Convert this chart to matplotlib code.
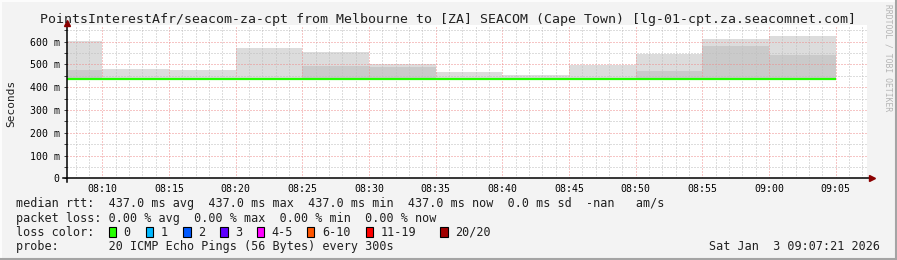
import matplotlib
matplotlib.use("Agg")
import matplotlib.pyplot as plt
import numpy as np
from matplotlib.patches import Rectangle
from matplotlib.lines import Line2D

# ---------------- data ----------------
title = "PointsInterestAfr/seacom-za-cpt from Melbourne to [ZA] SEACOM (Cape Town) [lg-01-cpt.za.seacomnet.com]"
step_starts = ["08:05", "08:10", "08:15", "08:20", "08:25", "08:30",
               "08:35", "08:40", "08:45", "08:50", "08:55", "09:00"]
median_ms = [437, 437, 437, 437, 437, 437, 437, 437, 437, 437, 437, 437]
dark_smoke_top = [475, 437, 437, 437, 493, 490, 437, 437, 437, 472, 581, 542]
light_smoke_top = [603, 480, 475, 572, 553, 502, 468, 453, 495, 547, 612, 626]
x_tick_labels = ["08:10", "08:15", "08:20", "08:25", "08:30", "08:35",
                 "08:40", "08:45", "08:50", "08:55", "09:00", "09:05"]
y_tick_values = [0, 100, 200, 300, 400, 500, 600]
y_tick_labels = ["0", "100 m", "200 m", "300 m", "400 m", "500 m", "600 m"]
loss_labels = ["0", "1", "2", "3", "4-5", "6-10", "11-19", "20/20"]
loss_colors = ["#26ff00", "#00b8ff", "#0059ff", "#5e00ff", "#ff00ff",
               "#ff5500", "#ff0000", "#a10000"]
line_median = "median rtt:  437.0 ms avg  437.0 ms max  437.0 ms min  437.0 ms now  0.0 ms sd  -nan   am/s"
line_loss = "packet loss: 0.00 % avg  0.00 % max  0.00 % min  0.00 % now"
line_probe = "probe:       20 ICMP Echo Pings (56 Bytes) every 300s"
stamp = "Sat Jan  3 09:07:21 2026"
view_start, view_end = "08:07:21", "09:07:21"
step_minutes = 5


def to_min(s):
    parts = [int(p) for p in s.split(":")]
    m = (parts[0] - 8) * 60 + parts[1]
    if len(parts) > 2:
        m += parts[2] / 60.0
    return m


# ---------------- layout ----------------
W, H = 897, 260
plt.rcParams['font.family'] = ['DejaVu Sans Mono']
fig = plt.figure(figsize=(W / 100, H / 100), dpi=100, facecolor="#f3f3f3")

px_left, px_right, px_bottom, px_top = 67, 867, 178.3, 25
ax = fig.add_axes([px_left / W, 1 - px_bottom / H,
                   (px_right - px_left) / W, (px_bottom - px_top) / H])
ax.set_facecolor("white")
ax.set_xlim(to_min(view_start), to_min(view_end))
ax.set_ylim(0, (px_bottom - px_top) / 0.228)

edges = [to_min(s) for s in step_starts] + [to_min(step_starts[-1]) + step_minutes]
ax.stairs(light_smoke_top, edges, baseline=median_ms, fill=True,
          color="#dcdcdc", lw=0, zorder=1)
ax.stairs(dark_smoke_top, edges, baseline=median_ms, fill=True,
          color="#cacaca", lw=0, zorder=1.2)
ax.stairs(median_ms, edges, baseline=None, color="#22ff00", lw=1.6, zorder=3)

# grid
ax.set_xticks([to_min(t) for t in x_tick_labels])
ax.set_xticklabels(x_tick_labels, fontsize=7.1)
ax.set_xticks(np.arange(np.ceil(to_min(view_start)), to_min(view_end), 1), minor=True)
ax.set_yticks(y_tick_values)
ax.set_yticklabels(y_tick_labels, fontsize=7.1)
ax.set_yticks(np.arange(50, ax.get_ylim()[1], 100), minor=True)
ax.set_axisbelow(False)
ax.grid(which="minor", color="#bdbdbd", ls=(0, (1, 2)), lw=0.72)
ax.grid(which="major", color="#ee8c8c", ls=(0, (1, 2)), lw=0.72)
ax.tick_params(axis="x", which="both", length=0, pad=4)
ax.tick_params(axis="y", which="both", length=2.2, width=0.7, color="#404040",
               pad=3, direction="out")
for sp in ax.spines.values():
    sp.set_visible(False)

# axes lines with arrows
tr = ax.transAxes
ax.add_line(Line2D([-4 / 800, 1.004], [0, 0], transform=tr, color="black",
                   lw=1.1, clip_on=False, zorder=4))
ax.add_line(Line2D([0, 0], [-4 / 153.3, 1.0], transform=tr, color="black",
                   lw=1.1, clip_on=False, zorder=4))
ax.plot([1.006], [0], marker=">", ms=4.2, color="#8b0000", transform=tr,
        clip_on=False, zorder=5, mec="#8b0000")
ax.plot([0], [1.012], marker="^", ms=4.2, color="#8b0000", transform=tr,
        clip_on=False, zorder=5, mec="#8b0000")

# texts
def ft(x, y, s, **kw):
    fig.text(x / W, 1 - y / H, s, **kw)

ft(448, 19, title, fontsize=9.55, ha="center", va="center", color="#202020")
ft(11, 103, "Seconds", fontsize=8, rotation=90, ha="center", va="center", color="#202020")
ft(888, 4, "RRDTOOL / TOBI OETIKER", fontsize=5.8, rotation=270, ha="center",
   va="top", color="#b4b4b4")

fs = 8.5
ft(16, 204, line_median, fontsize=fs, ha="left", va="center", color="#202020")
ft(16, 218.5, line_loss, fontsize=fs, ha="left", va="center", color="#202020")
ft(16, 232, "loss color:", fontsize=fs, ha="left", va="center", color="#202020")
ft(16, 246.5, line_probe, fontsize=fs, ha="left", va="center", color="#202020")
ft(880, 246.5, stamp, fontsize=fs, ha="right", va="center", color="#202020")

box_x = [108.5, 145.8, 183, 220, 256.8, 306.8, 365.8, 440]
for bx, lab, col in zip(box_x, loss_labels, loss_colors):
    fig.patches.append(Rectangle((bx / W, 1 - 237 / H), 7.5 / W, 10.5 / H,
                                 transform=fig.transFigure, facecolor=col,
                                 edgecolor="black", lw=0.8))
    ft(bx + 15, 232, lab, fontsize=fs, ha="left", va="center", color="#202020")

# frame
fig.add_artist(Line2D([0, 1], [1 - 0.5 / H, 1 - 0.5 / H], transform=fig.transFigure,
                      color="#fcfcfc", lw=1.5))
fig.add_artist(Line2D([0.5 / W, 0.5 / W], [0, 1], transform=fig.transFigure,
                      color="#fcfcfc", lw=1.5))
fig.add_artist(Line2D([0, 1], [1 / H, 1 / H], transform=fig.transFigure,
                      color="#a4a4a4", lw=1.5))
fig.add_artist(Line2D([1 - 1 / W, 1 - 1 / W], [0, 1], transform=fig.transFigure,
                      color="#a4a4a4", lw=1.5))

fig.savefig("out.png", dpi=100, facecolor=fig.get_facecolor())
